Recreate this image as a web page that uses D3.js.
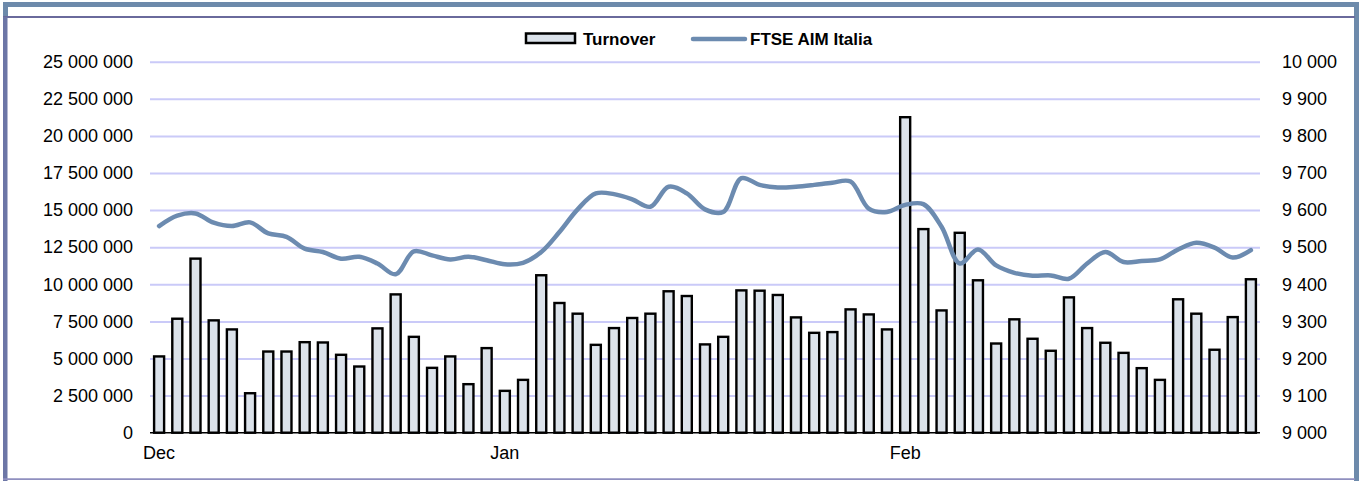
<!DOCTYPE html>
<html>
<head>
<meta charset="utf-8">
<script src="https://cdn.jsdelivr.net/npm/d3@7"></script>
<style>
  body { margin: 0; background: #fff; }
  svg { display: block; font-family: "Liberation Sans", Arial, sans-serif; }
  .axis path, .axis line { stroke: none; }
  .axis text { font-size: 18px; fill: #000; }
  .grid line { stroke: #cacaf8; stroke-width: 2; }
  .grid path { stroke: none; }
</style>
</head>
<body>
<div id="graph"></div>
<script>
const width = 1360,
    height = 481,
    left = 150, right = 1260, // plot edges
    top_y = 61.7, base_y = 432.7;

// one entry per trading day, Dec .. Feb
const monthLabels = ["Dec", "Jan", "Feb"];
const monthStart = [0, 19, 41]; // index of first day of each month

const turnover = [
  5140000, 7680000, 11730000, 7570000, 6960000, 2660000, 5470000, 5470000, 6100000, 6080000,
  5250000, 4460000, 7030000, 9320000, 6460000, 4370000, 5140000, 3270000, 5700000,
  2820000, 3560000, 10610000, 8740000, 8020000, 5920000, 7050000, 7730000, 8020000, 9530000,
  9210000, 5950000, 6460000, 9590000, 9570000, 9280000, 7770000, 6730000, 6780000, 8310000,
  7970000, 6960000,
  21260000, 13720000, 8240000, 13470000, 10270000, 6010000, 7640000, 6330000, 5520000, 9120000,
  7050000, 6060000, 5380000, 4350000, 3560000, 8990000, 8020000, 5590000, 7790000, 10340000
];

const ftseAim = [
  9557, 9585, 9591, 9566, 9557, 9567, 9537, 9528, 9496, 9487,
  9469, 9474, 9456, 9427, 9489, 9478, 9467, 9474, 9465,
  9454, 9458, 9487, 9541, 9602, 9645, 9643, 9629, 9609, 9663,
  9645, 9602, 9595, 9686, 9668, 9661, 9663, 9668, 9674, 9677,
  9604, 9595,
  9614, 9616, 9555, 9456, 9494, 9451, 9431, 9423, 9424, 9415,
  9456, 9487, 9460, 9463, 9467, 9494, 9512, 9499, 9472, 9492
];

const leftTicks = [0, 2500000, 5000000, 7500000, 10000000, 12500000, 15000000, 17500000, 20000000, 22500000, 25000000];
const rightTicks = [9000, 9100, 9200, 9300, 9400, 9500, 9600, 9700, 9800, 9900, 10000];

const loc = d3.formatLocale({decimal: ",", thousands: " ", grouping: [3], currency: ["", ""]});
const fmt = loc.format(",d");

const idx = d3.range(turnover.length);

const x = d3.scaleBand()
  .domain(idx)
  .range([left, right])
  .paddingInner(0.45)
  .paddingOuter(0.225);

const yL = d3.scaleLinear().domain([0, 25000000]).range([base_y, top_y]);
const yR = d3.scaleLinear().domain([9000, 10000]).range([base_y, top_y]);

const svg = d3.select("#graph")
  .append("svg")
  .attr("width", width)
  .attr("height", height);

// frame
svg.append("path").attr("d", "M3,4.5H1356.5V481").attr("fill", "none")
  .attr("stroke", "#6d8aab").attr("stroke-width", 5);
svg.append("rect").attr("x", 3).attr("y", 2).attr("width", 5).attr("height", 15).attr("fill", "#6d8aab");
svg.append("path").attr("d", "M3,17H1355").attr("stroke", "#6a6a9c").attr("stroke-width", 2.2);
svg.append("rect").attr("x", 3).attr("y", 17).attr("width", 4.5).attr("height", 464).attr("fill", "#6c76a6");
svg.append("path").attr("d", "M3,479.2H1355").attr("stroke", "#8f8fbf").attr("stroke-width", 1.8);

// gridlines
svg.append("g")
  .attr("class", "grid")
  .attr("transform", "translate(" + left + ",0)")
  .call(d3.axisLeft(yL).tickValues(leftTicks.slice(1)).tickFormat("").tickSizeInner(-(right - left)).tickSizeOuter(0));

// axes
svg.append("g")
  .attr("class", "axis")
  .attr("transform", "translate(" + (left - 17) + ",0)")
  .call(d3.axisLeft(yL).tickValues(leftTicks).tickFormat(fmt).tickSize(0).tickPadding(0));

svg.append("g")
  .attr("class", "axis")
  .attr("transform", "translate(" + 1282 + ",0)")
  .call(d3.axisRight(yR).tickValues(rightTicks).tickFormat(fmt).tickSize(0).tickPadding(0));

const xAxis = svg.append("g")
  .attr("class", "axis")
  .attr("transform", "translate(0," + (base_y + 14) + ")")
  .call(d3.axisBottom(x).tickValues(monthStart)
    .tickFormat(function (d) { return monthLabels[monthStart.indexOf(d)]; })
    .tickSize(0).tickPadding(0));
xAxis.selectAll("text").attr("dy", "0.71em");

// bars
svg.selectAll("rect.bar")
  .data(turnover)
  .enter()
  .append("rect")
  .attr("class", "bar")
  .attr("x", function (d, i) { return x(i); })
  .attr("width", x.bandwidth())
  .attr("y", function (d) { return yL(d); })
  .attr("height", function (d) { return base_y - yL(d); })
  .attr("fill", "#dbe2ea")
  .attr("stroke", "#000")
  .attr("stroke-width", 2.4);

// baseline
svg.append("line")
  .attr("x1", left).attr("x2", right)
  .attr("y1", base_y).attr("y2", base_y)
  .attr("stroke", "#000").attr("stroke-width", 1.5);

// index line
const line = d3.line()
  .x(function (d, i) { return x(i) + x.bandwidth() / 2; })
  .y(function (d) { return yR(d); })
  .curve(d3.curveCatmullRom.alpha(0.5));

svg.append("path")
  .datum(ftseAim)
  .attr("d", line)
  .attr("fill", "none")
  .attr("stroke", "#6c8bb0")
  .attr("stroke-width", 4.5)
  .attr("stroke-linecap", "round")
  .attr("stroke-linejoin", "round");

// legend
const lg = svg.append("g").attr("font-size", "17px").attr("font-weight", "bold");
lg.append("rect").attr("x", 526).attr("y", 33.5).attr("width", 49).attr("height", 9.5)
  .attr("fill", "#dbe2ea").attr("stroke", "#000").attr("stroke-width", 2.5);
lg.append("text").attr("x", 583).attr("y", 44.5).text("Turnover");
lg.append("line").attr("x1", 693).attr("x2", 745).attr("y1", 39).attr("y2", 39)
  .attr("stroke", "#6c8bb0").attr("stroke-width", 4.5).attr("stroke-linecap", "round");
lg.append("text").attr("x", 750).attr("y", 44.5).text("FTSE AIM Italia");
</script>
</body>
</html>
